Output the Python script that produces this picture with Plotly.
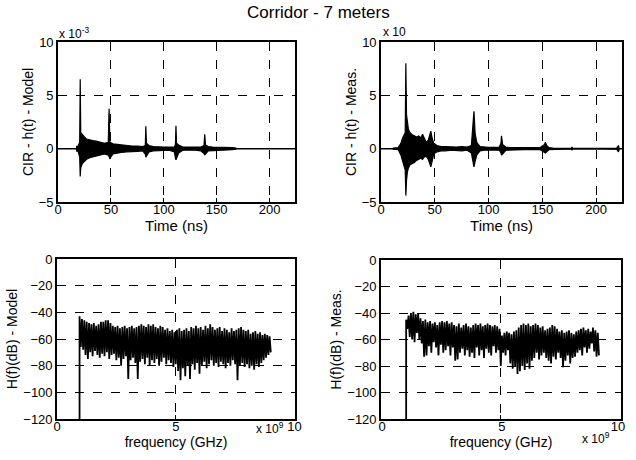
import numpy as np
import plotly.graph_objects as go
from plotly.subplots import make_subplots

# CIR envelopes (units of the axis multiplier)
model_t = [17, 19, 20.5, 21, 21.5, 23, 25, 27, 30, 33, 36, 40, 44, 47.5, 48.3, 49, 52, 56, 60, 65,
           70, 75, 80, 82.5, 83, 83.6, 86, 90, 95, 100, 105, 110, 111, 111.5, 112, 114, 118, 124, 130, 135,
           138, 138.7, 139.4, 142, 146, 150, 155, 160, 165, 168]
model_up = [0.2, 0.25, 0.6, 6.5, 1.5, 1.3, 1.1, 0.9, 0.8, 0.75, 0.7, 0.6, 0.5, 0.6, 3.75, 0.6, 0.45, 0.4, 0.35, 0.3,
            0.25, 0.25, 0.2, 0.3, 2.1, 0.5, 0.3, 0.2, 0.15, 0.15, 0.15, 0.15, 0.4, 2.15, 0.5, 0.35, 0.15, 0.15, 0.15, 0.15,
            0.3, 1.35, 0.35, 0.2, 0.15, 0.15, 0.12, 0.12, 0.1, 0.05]
model_lo = [-0.2, -0.25, -0.8, -2.6, -1.8, -1.4, -1.2, -1.0, -0.85, -0.75, -0.7, -0.6, -0.5, -0.6, -0.75, -0.9, -0.5, -0.4, -0.35, -0.3,
            -0.25, -0.25, -0.2, -0.5, -0.8, -0.7, -0.3, -0.2, -0.15, -0.15, -0.15, -0.3, -0.9, -1.05, -0.8, -0.4, -0.15, -0.15, -0.15, -0.2,
            -0.45, -0.6, -0.5, -0.2, -0.15, -0.15, -0.12, -0.12, -0.1, -0.05]

meas_t = [11, 16, 18.5, 20, 22.5, 23.1, 23.7, 24.5, 25.5, 27, 29, 31, 33, 35, 37, 38.6, 40, 42, 44, 46.3,
          47.5, 49, 52, 56, 60, 65, 70, 75, 80, 84, 86.4, 87.5, 89, 92, 96, 100, 105, 110, 111.5, 112,
          113, 116, 120, 130, 140, 148, 152, 152.8, 154, 156, 160, 170, 177, 177.5, 178, 190, 205, 219, 220.7, 221.5]
meas_up = [0.05, 0.1, 0.5, 1.0, 1.5, 8.0, 3.2, 2.5, 1.8, 1.5, 1.3, 1.2, 1.1, 1.2, 1.0, 1.35, 1.0, 0.6, 0.8, 1.65,
           1.0, 0.5, 0.3, 0.2, 0.2, 0.15, 0.15, 0.2, 0.15, 0.3, 3.5, 1.4, 0.6, 0.2, 0.15, 0.12, 0.12, 0.15, 0.5, 1.2,
           0.4, 0.15, 0.1, 0.1, 0.08, 0.1, 0.4, 0.6, 0.3, 0.1, 0.05, 0.05, 0.03, 0.15, 0.03, 0.02, 0.02, 0.05, 0.3, 0.05]
meas_lo = [-0.05, -0.1, -0.6, -1.2, -2.0, -4.4, -3.0, -2.2, -1.8, -1.5, -1.4, -1.3, -1.1, -1.0, -0.9, -1.0, -0.8, -0.7, -1.0, -1.7,
           -1.2, -0.5, -0.3, -0.2, -0.2, -0.15, -0.15, -0.2, -0.15, -0.4, -1.7, -1.2, -0.6, -0.2, -0.15, -0.12, -0.12, -0.15, -0.4, -0.6,
           -0.5, -0.15, -0.1, -0.1, -0.08, -0.1, -0.35, -0.4, -0.3, -0.1, -0.05, -0.05, -0.03, -0.15, -0.03, -0.02, -0.02, -0.05, -0.3, -0.05]

t_span = [0, 224]

# H(f) in dB, upper / lower envelope every 0.1 GHz
hf_model_up = [-43, -45, -46, -47, -48, -49, -48, -50, -49, -47,
               -47, -46, -46, -48, -50, -51, -50, -52, -51, -50,
               -52, -51, -50, -52, -51, -50, -49, -50, -51, -49,
               -50, -49, -51, -52, -50, -51, -53, -52, -54, -53,
               -55, -53, -52, -54, -53, -52, -54, -51, -52, -50,
               -52, -51, -53, -50, -52, -49, -51, -53, -52, -51,
               -54, -52, -53, -55, -52, -54, -53, -52, -51, -53,
               -54, -53, -56, -55, -54, -56, -55, -57, -56, -57, -58]
hf_model_lo = [-66, -68, -72, -75, -70, -73, -69, -72, -74, -71,
               -73, -70, -75, -72, -71, -76, -74, -80, -75, -73,
               -90, -76, -74, -78, -90, -77, -75, -79, -74, -80,
               -76, -78, -75, -80, -77, -74, -79, -76, -78, -81,
               -79, -84, -91, -82, -88, -80, -90, -79, -83, -78,
               -86, -80, -77, -82, -79, -76, -80, -78, -81, -77,
               -79, -82, -78, -80, -76, -79, -91, -80, -78, -81,
               -79, -82, -80, -83, -79, -81, -78, -76, -74, -72, -70]
hf_meas_up = [-45, -42, -40, -39, -41, -40, -44, -46, -45, -47,
              -46, -48, -47, -49, -47, -46, -47, -46, -48, -47,
              -49, -50, -48, -51, -49, -48, -50, -51, -49, -48,
              -49, -48, -50, -49, -48, -49, -50, -49, -50, -52,
              -57, -55, -54, -55, -56, -54, -53, -51, -49, -48,
              -49, -48, -50, -49, -48, -49, -51, -50, -53, -52,
              -51, -49, -50, -52, -54, -53, -55, -54, -53, -55,
              -56, -54, -53, -52, -51, -53, -52, -54, -51, -53, -55]
hf_meas_lo = [-52, -58, -60, -62, -55, -60, -63, -73, -72, -65,
              -70, -62, -66, -72, -64, -70, -68, -65, -72, -66,
              -76, -75, -70, -67, -72, -68, -73, -70, -74, -66,
              -72, -68, -74, -67, -70, -72, -65, -70, -68, -80,
              -70, -72, -68, -78, -82, -80, -86, -84, -80, -83,
              -78, -82, -76, -74, -70, -75, -72, -70, -74, -76,
              -78, -73, -75, -70, -74, -81, -76, -72, -78, -74,
              -73, -70, -68, -72, -66, -70, -67, -63, -69, -73, -72]

freq_model = np.round(np.arange(81) * 0.1 + 0.95, 2)
freq_meas = np.round(np.arange(81) * 0.1 + 1.05, 2)

FONT = "Liberation Sans, Arial, sans-serif"


def blob(t, up, lo):
    # closed outline of the impulse response envelope
    return list(t) + list(t)[::-1], list(up) + list(lo)[::-1]


def zigzag(f, up, lo):
    # alternate between upper and lower readings, starting from the floor
    xs, ys = [f[0]], [-120]
    for i in range(len(f)):
        xs += [f[i], f[i] + 0.05]
        ys += [up[i], lo[i]]
    return xs, ys


fig = make_subplots(rows=2, cols=2)

for col, (t, up, lo) in enumerate([(model_t, model_up, model_lo), (meas_t, meas_up, meas_lo)], start=1):
    fig.add_trace(go.Scatter(x=t_span, y=[0, 0], mode="lines",
                             line=dict(color="black", width=1.5)), row=1, col=col)
    bx, by = blob(t, up, lo)
    fig.add_trace(go.Scatter(x=bx, y=by, mode="lines", fill="toself", fillcolor="black",
                             line=dict(color="black", width=1.2)), row=1, col=col)

for col, (f, up, lo) in enumerate([(freq_model, hf_model_up, hf_model_lo),
                                   (freq_meas, hf_meas_up, hf_meas_lo)], start=1):
    zx, zy = zigzag(f, up, lo)
    fig.add_trace(go.Scatter(x=zx, y=zy, mode="lines",
                             line=dict(color="black", width=1.8)), row=2, col=col)

ax = dict(showline=True, linecolor="black", linewidth=1.6, mirror=True,
          ticks="inside", ticklen=4, tickcolor="black",
          showgrid=True, gridcolor="black", griddash="dash", gridwidth=1.4,
          zeroline=False, automargin=False, ticklabeloverflow="allow",
          tickfont=dict(family=FONT, size=13, color="black"))

W, H = 636, 460
doms = {
    1: ([58, 295], [42, 202]),
    2: ([381, 622], [42, 202]),
    3: ([57, 295], [259, 419]),
    4: ([381, 621], [260, 419]),
}
ylabels = ["CIR - h(t) - Model", "CIR - h(t) - Meas.", "H(f)(dB) - Model", "H(f)(dB) - Meas."]
for i in range(1, 5):
    (x0, x1), (y0, y1) = doms[i]
    top = i <= 2
    xa = dict(ax, domain=[x0 / W, x1 / W], ticklabelstandoff=-5)
    ya = dict(ax, domain=[1 - y1 / H, 1 - y0 / H])
    if top:
        xa.update(range=[0, 224], tickvals=[0, 50, 100, 150, 200],
                  title=dict(text="Time (ns)", standoff=0, font=dict(family=FONT, size=15, color="black")))
        ya.update(range=[-5, 10], tickvals=[-5, 0, 5, 10])
    else:
        xa.update(range=[0, 10.02], tickvals=[0, 5, 10],
                  title=dict(text="frequency (GHz)", standoff=0, font=dict(family=FONT, size=14, color="black")))
        ya.update(range=[-120, 0], tickvals=[-120, -100, -80, -60, -40, -20, 0])
    if i == 4:
        # keep the end label of the right-hand axis inside the window
        xa.update(ticklabelposition="outside left", ticklabelshift=6)
    ya.update(title=dict(text=ylabels[i - 1], standoff=2, font=dict(family=FONT, size=14, color="black")))
    key = "" if i == 1 else str(i)
    fig.update_layout({"xaxis" + key: xa, "yaxis" + key: ya})

notes = [
    dict(text="Corridor - 7 meters", x=0.5, y=1 - 13 / H, font=dict(size=17)),
    dict(text="x 10<sup>-3</sup>", x=74 / W, y=1 - 33 / H, font=dict(size=12)),
    dict(text="x 10", x=394 / W, y=1 - 32 / H, font=dict(size=12)),
    dict(text="x 10<sup>9</sup>", x=270 / W, y=1 - 428 / H, font=dict(size=12)),
    dict(text="x 10<sup>9</sup>", x=596 / W, y=1 - 438 / H, font=dict(size=12)),
]
for n in notes:
    n["font"].update(family=FONT, color="black")
    fig.add_annotation(xref="paper", yref="paper", showarrow=False,
                       xanchor="center", yanchor="middle", **n)

fig.update_layout(width=W, height=H, margin=dict(l=0, r=0, t=0, b=0),
                  showlegend=False, plot_bgcolor="white", paper_bgcolor="white")

# drop the browser's default page margin and scrollbars, then redraw so the edge labels are laid out again
fig.write_html("out.html", config={"displayModeBar": False},
               post_script="document.body.style.margin='0';"
                           "document.body.style.overflow='hidden';"
                           "document.documentElement.style.overflow='hidden';"
                           "var gd = document.getElementById('{plot_id}');"
                           "Plotly.newPlot(gd, gd.data, gd.layout, {displayModeBar: false});")
